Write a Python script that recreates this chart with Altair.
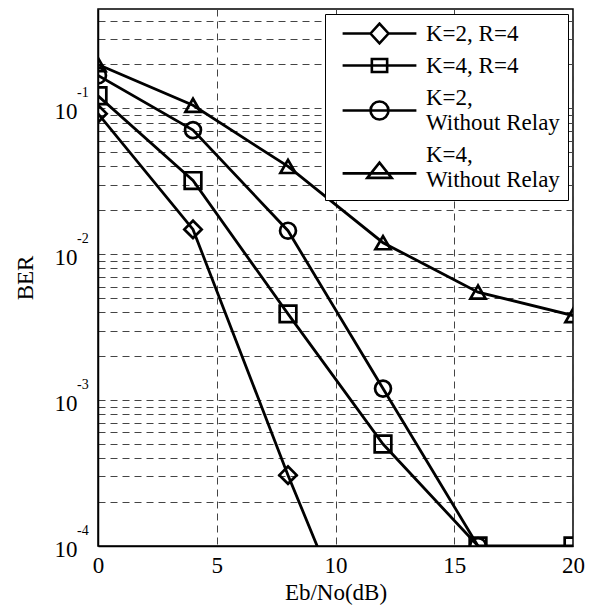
import altair as alt
import pandas as pd

# ---- data ----
snr_db = [0, 4, 8, 12, 16, 20]
series_names = ["K=2, R=4", "K=4, R=4", "K=2,|Without Relay", "K=4,|Without Relay"]
ber_k2_r4 = [0.092, 0.0148, 3.06e-4, 8e-6]
ber_k4_r4 = [0.122, 0.032, 0.0039, 5.0e-4, 1e-4, 1e-4]
ber_k2_norelay = [0.168, 0.071, 0.0145, 0.0012, 1e-4]
ber_k4_norelay = [0.2, 0.105, 0.04, 0.012, 0.0055, 0.0038]

x_ticks = [0, 5, 10, 15, 20]
decades = [1e-4, 1e-3, 1e-2, 1e-1]
decade_exponents = ["-4", "-3", "-2", "-1"]
y_max = 0.48

shapes = ["diamond", "square", "circle", "triangle-up"]
shape_sizes = [300, 230, 340, 430]
legend_paths = [
    "M-0.82,0L-0.2,0M0.2,0L0.82,0M-0.2,0L0,-0.22L0.2,0L0,0.22Z",
    "M-0.82,0L0.82,0M-0.17,-0.145L0.17,-0.145L0.17,0.145L-0.17,0.145Z",
    "M-0.82,0.29L0.82,0.29M0.2,0.29A0.2,0.2 0 1,1 -0.2,0.29A0.2,0.2 0 1,1 0.2,0.29Z",
    "M-0.82,0.42L0.82,0.42M-0.27,0.52L0,0.18L0.27,0.52Z",
]

series_values = [ber_k2_r4, ber_k4_r4, ber_k2_norelay, ber_k4_norelay]
rows = []
for name, vals in zip(series_names, series_values):
    for x, v in zip(snr_db, vals):
        rows.append({"series": name, "snr": x, "ber": v})
df = pd.DataFrame(rows)

y_grid = []
for e in range(-4, 0):
    for m in range(1, 10):
        v = m * 10.0 ** e
        if v <= y_max:
            y_grid.append(v)

exp_df = pd.DataFrame({"ber": decades, "exp": decade_exponents})

FONT = "Liberation Serif"
W, H = 475, 537

x_enc = alt.X(
    "snr:Q",
    scale=alt.Scale(domain=[0, 20], nice=False),
    axis=alt.Axis(
        values=x_ticks, title="Eb/No(dB)", grid=True, ticks=False, labelFlush=False,
        labelFont=FONT, labelFontSize=23, titleFont=FONT,
        labelPadding=8, titleY=46, titleBaseline="middle",
    ),
)
y_enc = alt.Y(
    "ber:Q",
    scale=alt.Scale(type="log", domain=[1e-4, y_max], nice=False),
    axis=alt.Axis(
        values=y_grid, title="BER", grid=True, ticks=False, labelFlush=False,
        labelFont=FONT, labelFontSize=23, titleFont=FONT,
        labelExpr="abs(log(datum.value)/LN10 - round(log(datum.value)/LN10)) < 1e-6 ? '10' : ''",
        labelPadding=21, labelOffset=3,
        titleX=-73, titleY=H / 2, titleAngle=-90, titleBaseline="middle", titleAlign="center",
    ),
)

base = alt.Chart(df)

lines = base.mark_line(clip=True, color="black", strokeWidth=2.8).encode(
    x=x_enc, y=y_enc, detail="series:N"
)

points = base.mark_point(clip=True, filled=False, color="black", strokeWidth=2.7, opacity=1).encode(
    x=x_enc,
    y=y_enc,
    shape=alt.Shape("series:N", scale=alt.Scale(domain=series_names, range=shapes), legend=None),
    size=alt.Size("series:N", scale=alt.Scale(domain=series_names, range=shape_sizes), legend=None),
)

legend_layer = base.transform_filter("false").mark_point(filled=False, color="black").encode(
    x=x_enc,
    y=y_enc,
    shape=alt.Shape(
        "series:N",
        scale=alt.Scale(domain=series_names, range=legend_paths),
        legend=alt.Legend(
            title=None, orient="top-right", offset=5,
            labelExpr="split(datum.label, '|')",
            symbolSize=8100, symbolStrokeWidth=2.6, symbolStrokeColor="black",
            symbolFillColor="transparent", symbolOpacity=1,
            labelFont=FONT, labelFontSize=23, labelLimit=400, labelOffset=0,
            labelBaseline="middle",
            clipHeight=23,
            strokeColor="black", fillColor="white", padding=8, rowPadding=8,
        ),
    ),
)

exps = alt.Chart(exp_df).mark_text(
    align="left", baseline="middle", font=FONT, fontSize=14, dy=-15, clip=False, color="black"
).encode(
    x=alt.value(-21),
    y=alt.Y("ber:Q", scale=alt.Scale(type="log", domain=[1e-4, y_max], nice=False)),
    text=alt.Text("exp:N"),
)

chart = alt.layer(lines, points, legend_layer, exps).resolve_scale(
    shape="independent", size="independent"
).properties(
    width=W, height=H,
    autosize=alt.AutoSizeParams(type="none"),
    padding={"left": 90, "top": 1, "right": 12, "bottom": 62},
).configure_view(
    stroke="black", strokeWidth=1.5
).configure_axis(
    labelFont=FONT, labelFontSize=23, labelColor="black",
    titleFont=FONT, titleFontSize=23, titleFontWeight="normal", titleColor="black",
    domainColor="black", domainWidth=1.5,
    gridColor="#444444", gridDash=[7, 5], gridWidth=1, gridOpacity=1,
)

chart.save("out.html", embed_options={"renderer": "svg", "actions": False})
